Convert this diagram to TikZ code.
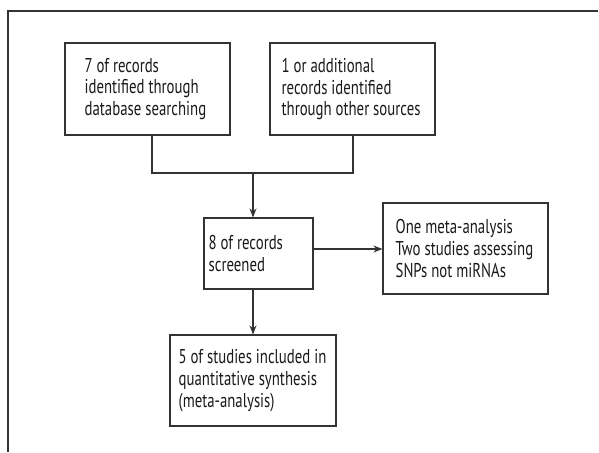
\documentclass[tikz,border=0pt]{standalone}
\usepackage{fontspec}
\setmainfont{PT Sans}[FakeStretch=0.74]
\usetikzlibrary{arrows.meta,calc}
\begin{document}
\begin{tikzpicture}[x=1pt,y=-1pt,
  line/.style={draw=black!80, line width=1.1pt},
  arr/.style={line, -{Stealth[length=9pt,width=7pt]}},
  box/.style={line, rectangle, inner sep=0pt},
  txt/.style={anchor=west, align=left, inner sep=0pt, text=black!90, font=\fontsize{20}{21.7}\selectfont}]
\useasboundingbox (0,0) rectangle (599,452);
\draw[line] (8,452) -- (8,11) -- (598,11);
\node[box, minimum width=165pt, minimum height=92pt] (b1) at (147.5,89) {};
\node[txt] (t1) at ($(b1.west)+(20,0)$) {7 of records\\identified through\\database searching};
\node[box, minimum width=165pt, minimum height=92pt] (b2) at (352.5,89) {};
\node[txt] (t2) at ($(b2.west)+(12,0)$) {1 or additional\\records identified\\through other sources};
\node[box, minimum width=109pt, minimum height=71pt] (b3) at (258.5,253.5) {};
\node[txt] (t3) at ($(b3.west)+(5,0)$) {8 of records\\screened};
\node[box, minimum width=165pt, minimum height=91pt] (b4) at (465.5,248.5) {};
\node[txt] (t4) at ($(b4.west)+(13,0)$) {One meta-analysis\\Two studies assessing\\SNPs not miRNAs};
\node[box, minimum width=166pt, minimum height=91pt] (b5) at (253,380.5) {};
\node[txt] (t5) at ($(b5.west)+(9,0)$) {5 of studies included in\\quantitative synthesis\\(meta-analysis)};
\coordinate (j) at (253,173);
\coordinate (l) at (152,173);
\coordinate (r) at (353,173);
\draw[line] (l |- b1.south) -- (l) -- (r) -- (r |- b2.south);
\draw[arr] (j) -- (j |- b3.north);
\draw[arr] (b3.east |- 0,249) -- (b4.west |- 0,249);
\draw[arr] (j |- b3.south) -- (j |- b5.north);
\end{tikzpicture}
\end{document}
